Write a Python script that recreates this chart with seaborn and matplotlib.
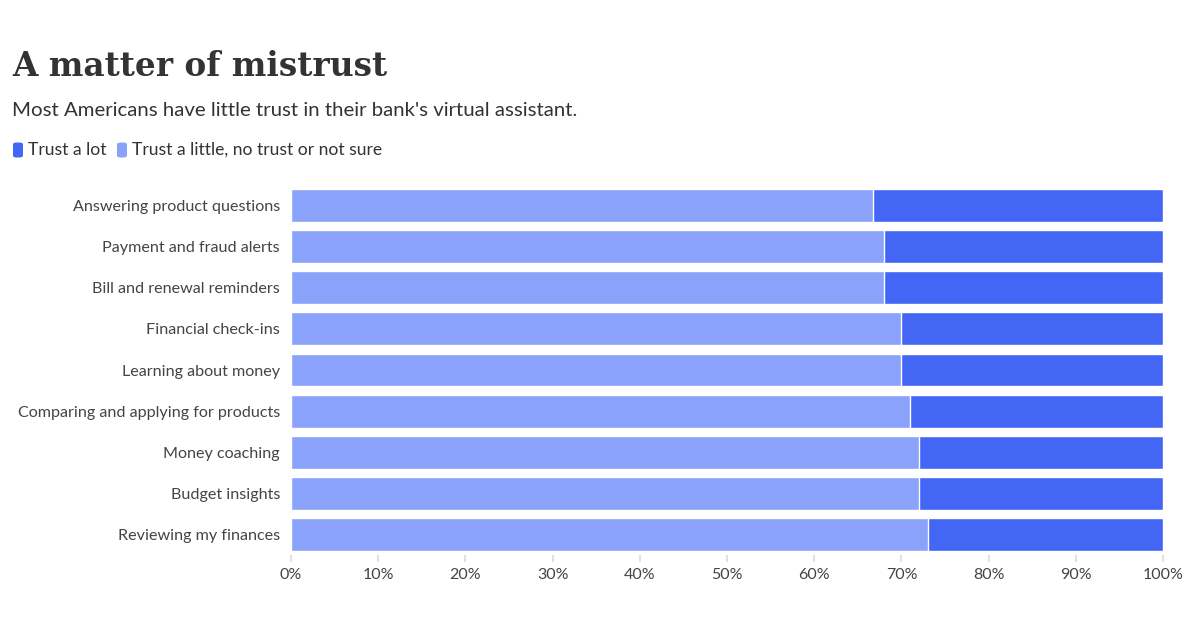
import matplotlib
matplotlib.use("Agg")
import matplotlib.pyplot as plt
from matplotlib.patches import FancyBboxPatch
import seaborn as sns
import pandas as pd

categories = [
    "Answering product questions",
    "Payment and fraud alerts",
    "Bill and renewal reminders",
    "Financial check-ins",
    "Learning about money",
    "Comparing and applying for products",
    "Money coaching",
    "Budget insights",
    "Reviewing my finances",
]
trust_little = [66.7, 68, 68, 70, 70, 71, 72, 72, 73]
trust_lot = [33.3, 32, 32, 30, 30, 29, 28, 28, 27]
series_names = ["Trust a lot", "Trust a little, no trust or not sure"]
x_ticks = [0, 10, 20, 30, 40, 50, 60, 70, 80, 90, 100]

DARK = "#4366F5"
LIGHT = "#8AA2F9"
TEXT = "#444444"

sns.set_theme(style="white")
plt.rcParams["font.family"] = ["Lato", "DejaVu Sans"]

df = pd.DataFrame({
    "category": categories,
    "little": trust_little,
    "total": [a + b for a, b in zip(trust_little, trust_lot)],
})

fig = plt.figure(figsize=(12, 6.3), dpi=100)
ax = fig.add_axes([0.2425, 0.119, 0.7267, 0.5873])

sns.barplot(data=df, x="total", y="category", color=DARK, saturation=1,
            width=0.8, edgecolor="white", linewidth=1, ax=ax, orient="h")
sns.barplot(data=df, x="little", y="category", color=LIGHT, saturation=1,
            width=0.8, edgecolor="white", linewidth=1, ax=ax, orient="h")

ax.set_xlim(0, 100)
ax.set_ylim(len(categories) - 0.5, -0.5)
ax.set_xticks(x_ticks)
ax.set_xticklabels([f"{t}%" for t in x_ticks], fontsize=11.5, color=TEXT)
ax.tick_params(axis="y", labelsize=11.6, labelcolor=TEXT, length=0, pad=8)
ax.tick_params(axis="x", length=5, color="#dddddd", pad=4, bottom=True)
ax.set_xlabel("")
ax.set_ylabel("")
for s in ax.spines.values():
    s.set_visible(False)

fig.text(0.01, 0.895, "A matter of mistrust", fontsize=23.6, fontweight="bold",
         family=["DejaVu Serif"], color="#333333", va="center", ha="left")
fig.text(0.01, 0.825, "Most Americans have little trust in their bank's virtual assistant.",
         fontsize=14.7, color="#333333", va="center", ha="left")

# legend
ly = 1 - 150 / 630
items = [(DARK, series_names[0], 13), (LIGHT, series_names[1], 117)]
for col, label, xpx in items:
    w, h = 10 / 1200, 15 / 630
    p = FancyBboxPatch((xpx / 1200, ly - h / 2), w, h,
                       boxstyle="round,pad=0,rounding_size=0.003",
                       transform=fig.transFigure, facecolor=col, edgecolor="none")
    fig.patches.append(p)
    fig.text((xpx + 15) / 1200, ly, label, fontsize=12.6, color="#333333",
             va="center", ha="left")

fig.savefig("out.png", dpi=100, facecolor="white")
